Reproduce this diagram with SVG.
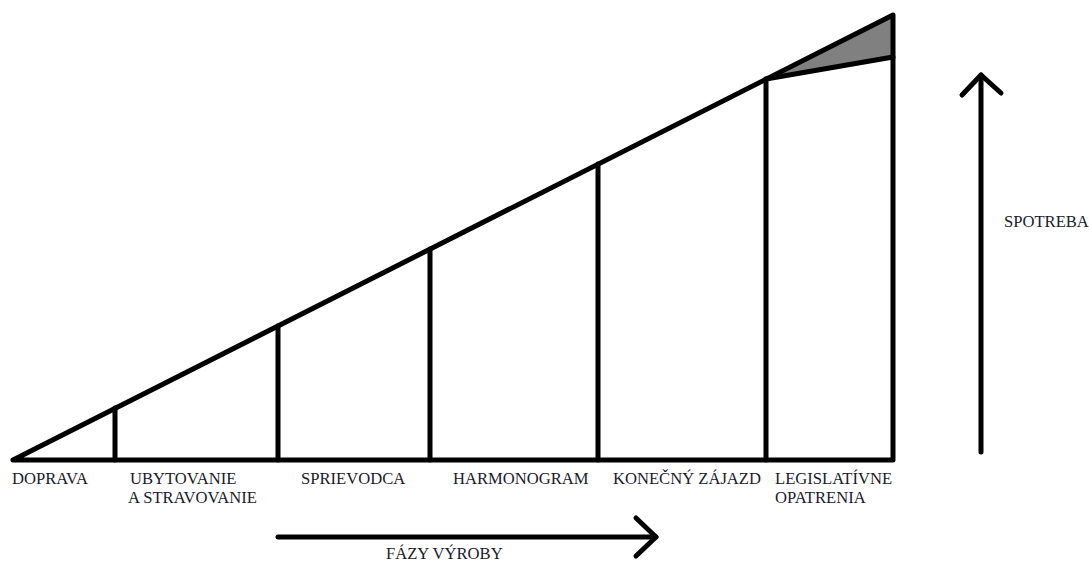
<svg xmlns="http://www.w3.org/2000/svg" width="1089" height="563" viewBox="0 0 1089 563">
<style>
.ln{stroke:#000;stroke-width:5;fill:none;stroke-linecap:round;stroke-linejoin:round}
.t{font-family:"Liberation Serif","Times New Roman",serif;font-size:16.6px;fill:#1a1a2e}
</style>
<rect width="1089" height="563" fill="#fff"/>
<g id="chart">
<polygon points="766,79 893,15 893,57" fill="#808080"/>
<polyline class="ln" points="13,460 893,15 893,460 13,460"/>
<line class="ln" x1="766" y1="79" x2="893" y2="57"/>
</g>
<g id="dividers">
<line class="ln" x1="115" y1="408" x2="115" y2="460"/>
<line class="ln" x1="278" y1="326" x2="278" y2="460"/>
<line class="ln" x1="430" y1="249" x2="430" y2="460"/>
<line class="ln" x1="598" y1="164" x2="598" y2="460"/>
<line class="ln" x1="766" y1="79" x2="766" y2="460"/>
</g>
<g id="doprava"><text class="t" x="12" y="484">DOPRAVA</text></g>
<g id="ubytovanie"><text class="t" x="130" y="484">UBYTOVANIE</text><text class="t" x="128" y="503">A STRAVOVANIE</text></g>
<g id="sprievodca"><text class="t" x="301" y="484">SPRIEVODCA</text></g>
<g id="harmonogram"><text class="t" x="453" y="484">HARMONOGRAM</text></g>
<g id="konecny"><text class="t" x="613" y="484">KONEČNÝ ZÁJAZD</text></g>
<g id="legislativne"><text class="t" x="775" y="484">LEGISLATÍVNE</text><text class="t" x="775" y="503">OPATRENIA</text></g>
<g id="connectors">
<line class="ln" x1="278" y1="537" x2="656" y2="537"/>
<polyline class="ln" points="636,518 656,537 636,556"/>
<line class="ln" x1="981" y1="452" x2="981" y2="75"/>
<polyline class="ln" points="962,95 981,75 1001,93"/>
</g>
<g id="fazy"><text class="t" x="386" y="559">FÁZY VÝROBY</text></g>
<g id="spotreba"><text class="t" x="1004" y="227">SPOTREBA</text></g>
</svg>
